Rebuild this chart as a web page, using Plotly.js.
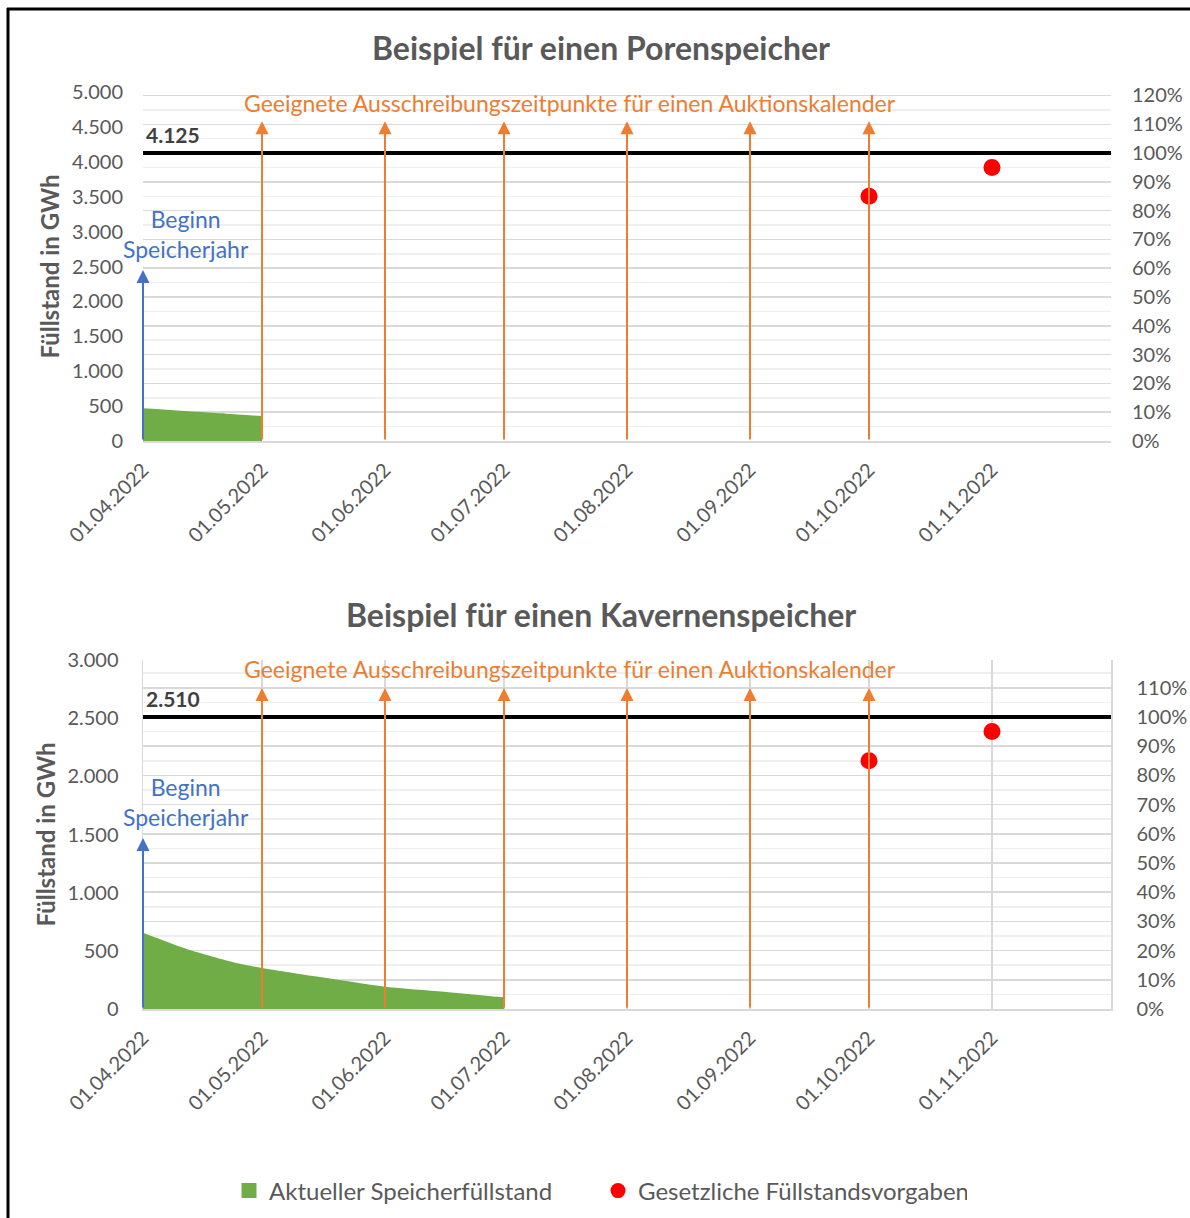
<!DOCTYPE html>
<html><head><meta charset="utf-8">
<script src="https://cdn.plot.ly/plotly-3.0.1.min.js"></script>
<style>html,body{margin:0;padding:0;background:#fff}#chart{width:1190px;height:1218px}</style>
</head><body><div id="chart"></div>
<script>
// ---------- data ----------
const chartTitles = ['Beispiel für einen Porenspeicher', 'Beispiel für einen Kavernenspeicher'];
const capacityGWh = [4125, 2510];
const leftAxisMax = [5000, 3000];
const monthTicks = ['2022-04-01','2022-05-01','2022-06-01','2022-07-01','2022-08-01','2022-09-01','2022-10-01','2022-11-01'];
const monthTickLabels = ['01.04.2022','01.05.2022','01.06.2022','01.07.2022','01.08.2022','01.09.2022','01.10.2022','01.11.2022'];
const xRange = ['2022-04-01', '2022-12-01'];
const auctionDates = ['2022-05-01','2022-06-01','2022-07-01','2022-08-01','2022-09-01','2022-10-01'];
const auctionArrowTopGWh = [4580, 2760];
const startDate = '2022-04-01';
const startArrowTopGWh = [2450, 1470];
const poreDates = ['2022-04-01','2022-04-08','2022-04-15','2022-04-22','2022-05-01'];
const poreLevelGWh = [470, 445, 418, 392, 357];
const cavernDates = ['2022-04-01','2022-04-06','2022-04-12','2022-04-18','2022-04-24','2022-05-01','2022-05-16','2022-06-01','2022-06-16','2022-07-01'];
const cavernLevelGWh = [655, 590, 515, 455, 400, 352, 272, 192, 149, 100];
const targetDates = ['2022-10-01','2022-11-01'];
const targetShare = [0.85, 0.95];
const seriesNames = ['Aktueller Speicherfüllstand', 'Gesetzliche Füllstandsvorgaben'];
const yAxisTitle = 'Füllstand in GWh';
const auctionText = 'Geeignete Ausschreibungszeitpunkte für einen Auktionskalender';
const startText = 'Beginn<br>Speicherjahr';

// ---------- layout helpers ----------
const W = 1190, H = 1218;
const fx = p => p / W;
const fy = p => 1 - p / H;
const FONT = 'Lato, "Open Sans", sans-serif';
const GRAY = '#595959';
const ORANGE = '#ED7D31';
const BLUE = '#4472C4';
const GREEN = '#70AD47';
const RED = '#FF0000';
const xDom = [fx(143), fx(1111)];
const yDoms = [[fy(441), fy(92)], [fy(1009), fy(660)]];
const titleY = [47, 614];
const auctionTextY = [103, 669];

const xIds = ['x', 'x2'];
const yIds = ['y', 'y2'];
const yPctIds = ['y3', 'y4'];
const levelDates = [poreDates, cavernDates];
const levels = [poreLevelGWh, cavernLevelGWh];

const traces = [];
const annotations = [];
const shapes = [];
const layout = {
  width: W, height: H,
  margin: {l: 0, r: 0, t: 0, b: 0},
  paper_bgcolor: '#fff', plot_bgcolor: 'rgba(0,0,0,0)',
  separators: ',.',
  font: {family: FONT, color: GRAY, size: 20},
  hovermode: false,
  showlegend: true,
  legend: {
    orientation: 'h', x: fx(229), xanchor: 'left', y: fy(1191), yanchor: 'middle',
    font: {size: 24, color: GRAY}, itemwidth: 30, traceorder: 'normal', itemclick: false,
    entrywidth: 324, entrywidthmode: 'pixels'
  }
};

for (let i = 0; i < 2; i++) {
  const xk = i === 0 ? 'xaxis' : 'xaxis2';
  const yk = i === 0 ? 'yaxis' : 'yaxis2';
  const y2k = i === 0 ? 'yaxis3' : 'yaxis4';
  layout[xk] = {
    domain: xDom, anchor: yIds[i], type: 'date', range: xRange,
    tickmode: 'array', tickvals: monthTicks, ticktext: monthTickLabels,
    tickangle: -45, tickfont: {size: 20, color: GRAY},
    ticks: '', ticklabelstandoff: 8,
    showgrid: i === 1, gridcolor: '#D9D9D9', gridwidth: 1.5,
    showline: true, linecolor: '#D9D9D9', linewidth: 1.5,
    zeroline: false, fixedrange: true
  };
  layout[yk] = {
    domain: yDoms[i], anchor: xIds[i], range: [0, leftAxisMax[i]], dtick: 500,
    tickformat: ',d', tickfont: {size: 20, color: GRAY},
    ticklabelstandoff: 19, showgrid: false, zeroline: false,
    showline: i === 1, linecolor: '#D9D9D9', linewidth: 1.5,
    title: {text: '<b>' + yAxisTitle + '</b>', font: {size: 24, color: GRAY}, standoff: 5},
    fixedrange: true
  };
  layout[y2k] = {
    overlaying: yIds[i], anchor: xIds[i], side: 'right',
    range: [0, leftAxisMax[i] / capacityGWh[i]], dtick: 0.1, tick0: 0,
    tickformat: '.0%', tickfont: {size: 20, color: GRAY}, ticklabelstandoff: 20,
    showgrid: true, gridcolor: '#D9D9D9', gridwidth: 1.5,
    minor: {dtick: 0.05, tick0: 0, showgrid: true, gridcolor: '#EFEFEF', gridwidth: 1.5},
    zeroline: false, showline: i === 1, linecolor: '#D9D9D9', linewidth: 1.5,
    fixedrange: true
  };

  traces.push({
    type: 'scatter', x: levelDates[i], y: levels[i], xaxis: xIds[i], yaxis: yIds[i],
    mode: 'lines', line: {width: 0, shape: 'spline', smoothing: 0.8, color: GREEN},
    fill: 'tozeroy', fillcolor: GREEN,
    name: seriesNames[0], legendgroup: 'level', showlegend: false
  });
  traces.push({
    type: 'scatter', x: targetDates, y: targetShare, xaxis: xIds[i], yaxis: yPctIds[i],
    mode: 'markers', marker: {color: RED, size: 17},
    name: seriesNames[1], legendgroup: 'target', showlegend: false
  });

  // capacity line
  shapes.push({
    type: 'line', xref: xIds[i] + ' domain', x0: 0, x1: 1,
    yref: yIds[i], y0: capacityGWh[i], y1: capacityGWh[i],
    line: {color: '#000', width: 4}, layer: 'above'
  });

  // titles
  annotations.push({
    xref: 'paper', yref: 'paper', x: fx(601), y: fy(titleY[i]), xanchor: 'center', yanchor: 'middle',
    text: '<b>' + chartTitles[i] + '</b>', showarrow: false, font: {size: 32, color: GRAY}
  });
  // capacity label
  annotations.push({
    xref: xIds[i], yref: yIds[i], x: startDate, y: capacityGWh[i], xanchor: 'left', yanchor: 'bottom',
    xshift: 1, yshift: 4,
    text: '<b>' + capacityGWh[i].toLocaleString('de-DE') + '</b>', showarrow: false,
    font: {size: 21, color: '#404040'}
  });
  // auction text
  annotations.push({
    xref: 'paper', yref: 'paper', x: fx(570), y: fy(auctionTextY[i]), xanchor: 'center', yanchor: 'middle',
    text: auctionText, showarrow: false, font: {size: 23, color: ORANGE}
  });
  // start text
  annotations.push({
    xref: xIds[i], yref: yIds[i], x: startDate, y: startArrowTopGWh[i], xanchor: 'center', yanchor: 'bottom',
    xshift: 43, yshift: 5, align: 'center',
    text: startText, showarrow: false, font: {size: 23, color: BLUE}
  });
  // start arrow
  annotations.push({
    xref: xIds[i], yref: yIds[i], x: startDate, y: startArrowTopGWh[i],
    axref: xIds[i], ayref: yIds[i], ax: startDate, ay: 0,
    text: '', showarrow: true, arrowhead: 2, arrowsize: 1.3, arrowwidth: 2, arrowcolor: BLUE,
    standoff: 0, startstandoff: 0
  });
  // auction arrows
  auctionDates.forEach(d => {
    annotations.push({
      xref: xIds[i], yref: yIds[i], x: d, y: auctionArrowTopGWh[i],
      axref: xIds[i], ayref: yIds[i], ax: d, ay: 0,
      text: '', showarrow: true, arrowhead: 2, arrowsize: 1.3, arrowwidth: 2, arrowcolor: ORANGE,
      standoff: 0, startstandoff: 0
    });
  });
}

// legend entries (legend-only traces carrying the series styling)
traces.push({
  type: 'scatter', x: [null], y: [null], xaxis: 'x', yaxis: 'y',
  mode: 'markers', marker: {symbol: 'square', color: GREEN, size: 15},
  name: seriesNames[0], showlegend: true
});
traces.push({
  type: 'scatter', x: [null], y: [null], xaxis: 'x', yaxis: 'y3',
  mode: 'markers', marker: {symbol: 'circle', color: RED, size: 15},
  name: seriesNames[1], showlegend: true
});

// outer frame (top and left edge)
shapes.push({type: 'line', xref: 'paper', yref: 'paper', x0: fx(7), x1: fx(1190), y0: fy(9), y1: fy(9), line: {color: '#000', width: 3}});
shapes.push({type: 'line', xref: 'paper', yref: 'paper', x0: fx(8), x1: fx(8), y0: fy(8), y1: fy(1218), line: {color: '#000', width: 3}});

layout.shapes = shapes;
layout.annotations = annotations;

Plotly.newPlot('chart', traces, layout, {displayModeBar: false, staticPlot: true});
</script>
</body></html>
